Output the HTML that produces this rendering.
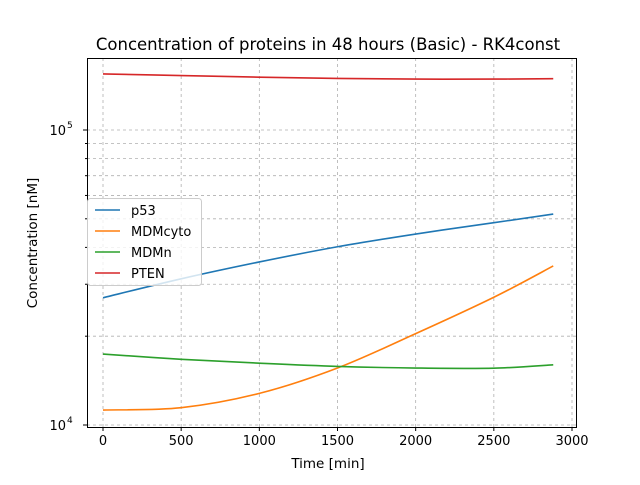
<!DOCTYPE html>
<html><head><meta charset="utf-8"><style>
body{margin:0;background:#fff}
svg text{font-family:"DejaVu Sans","Liberation Sans",sans-serif;fill:#000}
</style></head><body>
<svg id="chart" width="640" height="480" xmlns="http://www.w3.org/2000/svg">
<rect width="640" height="480" fill="#fff"/>
<g id="grid"></g>
<g id="lines"></g>
<rect x="87.5" y="58.5" width="489" height="369" fill="none" stroke="#000" stroke-width="1"/>
<g id="ticks"></g>
<text x="328" y="50" font-size="16.5" text-anchor="middle">Concentration of proteins in 48 hours (Basic) - RK4const</text>
<text x="328" y="468" font-size="13.5" text-anchor="middle">Time [min]</text>
<text x="37" y="243" font-size="13.5" text-anchor="middle" transform="rotate(-90 37 243)">Concentration [nM]</text>
<g id="legend"></g>
</svg>
<script>
const times=[0,500,1000,1500,2000,2500,2880];
const p53=[27000,31300,35700,40200,44400,48500,51900];
const mdmCyto=[11240,11450,12800,15600,20400,27100,34600];
const mdmN=[17400,16700,16200,15800,15600,15580,16000];
const pten=[154900,153000,151000,149500,148800,148800,149300];
const seriesNames=["p53","MDMcyto","MDMn","PTEN"];
const seriesColors=["#1f77b4","#ff7f0e","#2ca02c","#d62728"];
const xTicks=[0,500,1000,1500,2000,2500,3000];
const ns="http://www.w3.org/2000/svg";
const xs=v=>103+v*(572-103)/3000;
const ys=v=>425-295*Math.log10(v/1e4);
function el(t,a,p){const e=document.createElementNS(ns,t);for(const k in a)e.setAttribute(k,a[k]);p.appendChild(e);return e;}
const grid=document.getElementById('grid'),ticks=document.getElementById('ticks'),lines=document.getElementById('lines'),leg=document.getElementById('legend');
xTicks.forEach(t=>{const x=xs(t);
 const g=el('line',{x1:x,x2:x,y1:58,y2:427,stroke:'#b0b0b0','stroke-dasharray':'3,3','stroke-width':0.8},grid);
 
 el('line',{x1:x,x2:x,y1:427,y2:431,stroke:'#000'},ticks);
 const tx=el('text',{x:x,y:445,'font-size':13,'text-anchor':'middle'},ticks);tx.textContent=t;
 });
for(let d=1e4;d<=1e5;d*=10){for(let m=1;m<=9;m++){const v=d*m;const y=ys(v);if(y<58||y>427)continue;
 const g=el('line',{x1:87,x2:576,y1:y,y2:y,stroke:'#b0b0b0','stroke-dasharray':'3,3','stroke-width':0.8},grid);
 
 el('line',{x1:m===1?83:85,x2:87,y1:y,y2:y,stroke:'#000'},ticks);
 if(m===1){const tx=el('text',{x:66,y:y+5,'font-size':13,'text-anchor':'end'},ticks);tx.textContent='10';
  
  const s=el('text',{x:67,y:y-2,'font-size':9},ticks);s.textContent=Math.round(Math.log10(d));}}}
const data=[p53,mdmCyto,mdmN,pten];
data.forEach((arr,i)=>{const pts=arr.map((v,j)=>[xs(times[j]),ys(v)]);
 let dstr='M'+pts[0];for(let j=0;j<pts.length-1;j++){const p0=pts[j-1]||pts[j],p1=pts[j],p2=pts[j+1],p3=pts[j+2]||p2;
  dstr+=` C${p1[0]+(p2[0]-p0[0])/6},${p1[1]+(p2[1]-p0[1])/6} ${p2[0]-(p3[0]-p1[0])/6},${p2[1]-(p3[1]-p1[1])/6} ${p2[0]},${p2[1]}`;}
 const l=el('path',{d:dstr,fill:'none',stroke:seriesColors[i],'stroke-width':1.6},lines);
 });
el('rect',{x:87.5,y:198.5,width:114,height:87,rx:3,fill:'#fff','fill-opacity':0.8,stroke:'#ccc'},leg);
seriesNames.forEach((n,i)=>{const y=210+i*21;
 el('line',{x1:95,x2:120,y1:y,y2:y,stroke:seriesColors[i],'stroke-width':1.6},leg);
 const t=el('text',{x:131,y:y+5,'font-size':13},leg);t.textContent=n;
 });
</script>
</body></html>
